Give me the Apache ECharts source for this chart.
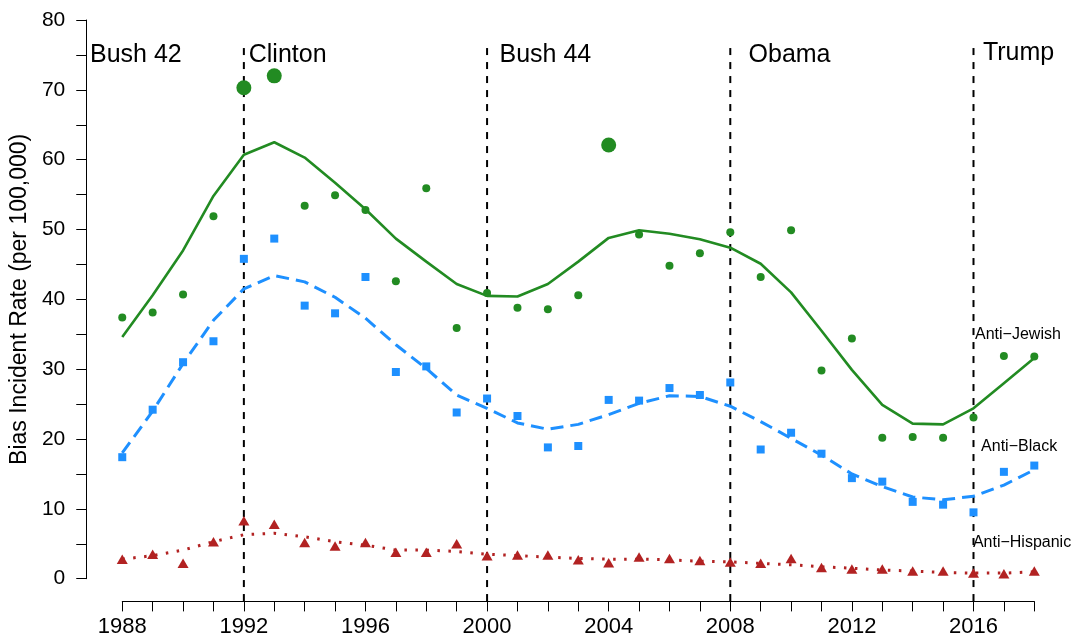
<!DOCTYPE html>
<html>
<head>
<meta charset="utf-8">
<script src="https://cdn.jsdelivr.net/npm/echarts@6/dist/echarts.min.js"></script>
<style>
html,body{margin:0;padding:0;background:#fff;}
#chart{width:1075px;height:641px;}
</style>
</head>
<body>
<div id="chart"></div>
<script>
// ---- data ----
var years = [1988,1989,1990,1991,1992,1993,1994,1995,1996,1997,1998,1999,2000,2001,2002,2003,2004,2005,2006,2007,2008,2009,2010,2011,2012,2013,2014,2015,2016,2017,2018];
var antiJewish = [37.4,38.1,40.7,51.9,70.3,72.0,53.4,54.9,52.8,42.6,55.9,35.9,40.9,38.8,38.6,40.6,62.1,49.3,44.8,46.6,49.6,43.2,49.9,29.8,34.4,20.2,20.3,20.2,23.1,31.9,31.8];
var jewishTrend = [34.6,40.6,47.0,54.8,60.7,62.5,60.3,56.7,52.9,48.7,45.4,42.2,40.5,40.4,42.2,45.4,48.8,49.9,49.4,48.6,47.4,45.1,41.0,35.5,29.9,24.9,22.2,22.1,24.4,28.0,31.6];
var jewishLargeYears = [1992,1993,2004];
var antiBlack = [17.4,24.2,31.0,34.0,45.8,48.7,39.1,38.0,43.2,29.6,30.4,23.8,25.8,23.3,18.8,19.0,25.6,25.5,27.3,26.3,28.1,18.5,20.9,17.9,14.4,13.9,11.0,10.6,9.5,15.3,16.2];
var blackTrend = [18.0,24.0,30.8,37.0,41.5,43.4,42.5,40.3,37.3,33.5,30.1,26.3,24.4,22.3,21.4,22.1,23.5,25.1,26.2,26.1,24.7,22.5,20.1,17.7,15.0,13.2,11.7,11.3,11.8,13.4,15.6];
var antiHispanic = [2.8,3.5,2.2,5.3,8.3,7.8,5.2,4.7,5.2,3.8,3.8,5.0,3.3,3.4,3.4,2.7,2.3,3.1,2.9,2.6,2.4,2.2,2.9,1.6,1.4,1.4,1.1,1.1,0.8,0.7,1.1];
var hispanicTrend = [2.8,3.3,4.1,5.3,6.3,6.5,6.0,5.3,4.8,4.1,4.1,3.9,3.5,3.3,3.1,2.9,2.8,2.8,2.7,2.5,2.4,2.2,2.0,1.7,1.5,1.25,1.1,0.9,0.8,0.8,1.0];

var presidentNames = ['Bush 42','Clinton','Bush 44','Obama','Trump'];
var presidentLabelX = [1986.94,1992.16,2000.41,2008.6,2016.31];
var presidentLabelY = [75,75,75,75,75.3];
var termStarts = [1992,2000,2008,2016];
var termLineRange = [-3.2,76];

var groupNames = ['Anti\u2212Jewish','Anti\u2212Black','Anti\u2212Hispanic'];
var groupLabelX = [2016.05,2016.25,2015.98];
var groupLabelY = [34.9,18.9,5.2];

var yTickLabels = [0,10,20,30,40,50,60,70,80];
var xTickLabels = [1988,1992,1996,2000,2004,2008,2012,2016];

// ---- chart ----
var FONT = 'Liberation Sans, Arial, Helvetica, sans-serif';
var GREEN = '#228B22', BLUE = '#1E90FF', RED = '#B22222';

function pairs(xs, ys){ return xs.map(function(x,i){ return [x, ys[i]]; }); }

var chart = echarts.init(document.getElementById('chart'), null, {renderer:'canvas'});
var option = {
  animation: false,
  backgroundColor: '#ffffff',
  grid: {left: 121.3, right: 40.7, top: 20, bottom: 62.3, containLabel: false},
  xAxis: {
    type: 'value', min: 1988, max: 2018, interval: 1, offset: 22.7,
    axisLine: {show: true, onZero: false, lineStyle: {color: '#000', width: 1}},
    axisTick: {show: true, length: 10, lineStyle: {color: '#000', width: 1}},
    axisLabel: {show: true, margin: 15, color: '#000', fontSize: 22, fontFamily: FONT,
      formatter: function(v){ return xTickLabels.indexOf(v) >= 0 ? String(v) : ''; }},
    splitLine: {show: false}
  },
  yAxis: {
    type: 'value', min: 0, max: 80, interval: 5, offset: 36,
    name: 'Bias Incident Rate (per 100,000)', nameLocation: 'middle', nameGap: 51,
    nameRotate: 90,
    nameTextStyle: {color: '#000', fontSize: 23, fontFamily: FONT},
    axisLine: {show: true, lineStyle: {color: '#000', width: 1}},
    axisTick: {show: true, length: 10, lineStyle: {color: '#000', width: 1}},
    axisLabel: {show: true, margin: 21, color: '#000', fontSize: 21, fontFamily: FONT,
      formatter: function(v){ return yTickLabels.indexOf(v) >= 0 ? String(v) : ''; }},
    splitLine: {show: false}
  },
  series: [
    {
      type: 'custom', name: 'terms', clip: false, silent: true, z: 1,
      data: termStarts.map(function(x){ return [x]; }),
      renderItem: function(params, api){
        var x = api.value(0);
        var p1 = api.coord([x, termLineRange[0]]);
        var p2 = api.coord([x, termLineRange[1]]);
        return {type: 'line', shape: {x1: p1[0], y1: p1[1], x2: p2[0], y2: p2[1]},
          style: {stroke: '#000', lineWidth: 2, lineDash: [7, 7]}};
      }
    },
    {
      type: 'line', name: 'Jewish trend', data: pairs(years, jewishTrend), showSymbol: false,
      clip: false, z: 3, lineStyle: {color: GREEN, width: 2.6, type: 'solid'}
    },
    {
      type: 'line', name: 'Black trend', data: pairs(years, blackTrend), showSymbol: false,
      clip: false, z: 3, lineStyle: {color: BLUE, width: 3, type: [13, 7]}
    },
    {
      type: 'line', name: 'Hispanic trend', data: pairs(years, hispanicTrend), showSymbol: false,
      clip: false, z: 3, lineStyle: {color: RED, width: 3, type: [2.5, 8.5]}
    },
    {
      type: 'scatter', name: 'Anti-Jewish', data: pairs(years, antiJewish), clip: false, z: 4,
      symbol: 'circle',
      symbolSize: function(v){ return jewishLargeYears.indexOf(v[0]) >= 0 ? 15 : 8; },
      itemStyle: {color: GREEN, opacity: 1}
    },
    {
      type: 'scatter', name: 'Anti-Black', data: pairs(years, antiBlack), clip: false, z: 4,
      symbol: 'rect', symbolSize: 8, itemStyle: {color: BLUE, opacity: 1}
    },
    {
      type: 'scatter', name: 'Anti-Hispanic', data: pairs(years, antiHispanic), clip: false, z: 4,
      symbol: 'triangle', symbolSize: [11, 9.5], itemStyle: {color: RED, opacity: 1}
    },
    {
      type: 'scatter', name: 'presidents', clip: false, silent: true, z: 5, symbolSize: 0,
      itemStyle: {opacity: 1},
      data: presidentNames.map(function(n, i){ return {name: n, value: [presidentLabelX[i], presidentLabelY[i]]}; }),
      label: {show: true, position: 'right', distance: 0, formatter: '{b}', color: '#000',
        fontSize: 25, fontFamily: FONT, align: 'left', verticalAlign: 'middle'}
    },
    {
      type: 'scatter', name: 'groups', clip: false, silent: true, z: 5, symbolSize: 0,
      itemStyle: {opacity: 1},
      data: groupNames.map(function(n, i){ return {name: n, value: [groupLabelX[i], groupLabelY[i]]}; }),
      label: {show: true, position: 'right', distance: 0, formatter: '{b}', color: '#000',
        fontSize: 16, fontFamily: FONT, align: 'left', verticalAlign: 'middle'}
    }
  ]
};
chart.setOption(option);
</script>
</body>
</html>
